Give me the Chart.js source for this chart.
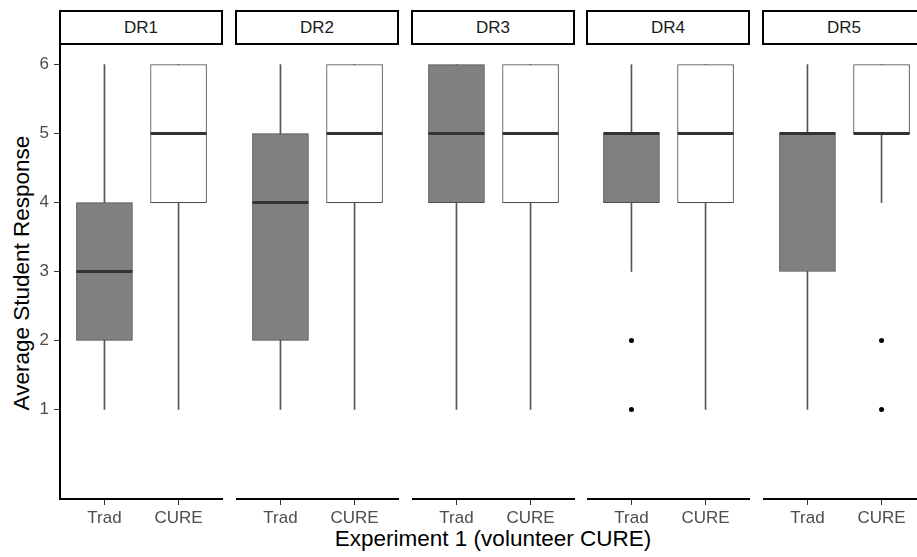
<!DOCTYPE html>
<html>
<head>
<meta charset="utf-8">
<script src="https://cdn.jsdelivr.net/npm/chart.js@4/dist/chart.umd.min.js"></script>
<style>
  body { margin: 0; background: #fff; }
  #wrap { position: relative; width: 917px; height: 557px; overflow: hidden; font-family: "Liberation Sans", Arial, sans-serif; }
  .strip { position: absolute; top: 10px; height: 35px; width: 164px; box-sizing: border-box; border: 2px solid #000; background: #fff;
           font-size: 17px; color: #1a1a1a; text-align: center; line-height: 31px; }
  canvas { position: absolute; top: 44px; }
  #xtitle { position: absolute; left: 0; width: 986px; top: 526px; text-align: center; font-size: 22.5px; color: #000; }
  #ytitle { position: absolute; left: 22px; top: 273px; transform: translate(-50%, -50%) rotate(-90deg); white-space: nowrap; font-size: 22.5px; color: #000; }
</style>
</head>
<body>
<div id="wrap">
  <div id="ytitle">Average Student Response</div>
  <div id="xtitle">Experiment 1 (volunteer CURE)</div>
</div>
<script>
// facets and groups
var panels = ['DR1', 'DR2', 'DR3', 'DR4', 'DR5'];
var groups = ['Trad', 'CURE'];
var yTicks = [1, 2, 3, 4, 5, 6];

// box plot stats per panel: [Trad, CURE]
var lowWhisker  = [[1, 1], [1, 1], [1, 1], [3, 1], [1, 4]];
var q1          = [[2, 4], [2, 4], [4, 4], [4, 4], [3, 5]];
var medians     = [[3, 5], [4, 5], [5, 5], [5, 5], [5, 5]];
var q3          = [[4, 6], [5, 6], [6, 6], [5, 6], [5, 6]];
var highWhisker = [[6, 6], [6, 6], [6, 6], [6, 6], [6, 6]];
var outliers    = [[[], []], [[], []], [[], []], [[1, 2], []], [[], [1, 2]]];

Chart.defaults.font.family = '"Liberation Sans", Arial, sans-serif';
Chart.defaults.animation = false;

var wrap = document.getElementById('wrap');
var panelW = 163, plotH = 455, xAxisH = 36, yAxisW = 60;

panels.forEach(function (name, p) {
    var left = Math.round(yAxisW + p * 175.75);

    var strip = document.createElement('div');
    strip.className = 'strip';
    strip.style.left = (left - 1) + 'px';
    strip.textContent = name;
    wrap.appendChild(strip);

    var canvas = document.createElement('canvas');
    var first = p === 0;
    canvas.width = first ? panelW + yAxisW : panelW;
    canvas.height = plotH + xAxisH;
    canvas.style.left = (first ? 0 : left) + 'px';
    wrap.appendChild(canvas);

    var outPts = [];
    outliers[p].forEach(function (vals, g) {
        vals.forEach(function (v) { outPts.push({ x: g + 1, y: v }); });
    });

    new Chart(canvas, {
        type: 'bar',
        data: {
            datasets: [{
                // whiskers
                data: groups.map(function (g, i) { return { x: i + 1, y: [lowWhisker[p][i], highWhisker[p][i]] }; }),
                backgroundColor: '#555555',
                borderWidth: 0,
                barThickness: 1,
                grouped: false,
                order: 4
            }, {
                // boxes
                data: groups.map(function (g, i) { return { x: i + 1, y: [q1[p][i], q3[p][i]] }; }),
                backgroundColor: ['#808080', '#ffffff'],
                borderColor: '#4d4d4d',
                borderWidth: 1,
                borderSkipped: false,
                barThickness: 56,
                grouped: false,
                order: 3
            }, {
                type: 'line',
                data: groups.map(function (g, i) { return { x: i + 1, y: medians[p][i] }; }),
                showLine: false,
                pointStyle: 'line',
                pointRadius: 28,
                pointBorderWidth: 3,
                pointBorderColor: '#333333',
                order: 2
            }, {
                type: 'line',
                data: outPts,
                showLine: false,
                pointRadius: 2.5,
                pointBackgroundColor: '#000',
                pointBorderWidth: 0,
                order: 1
            }]
        },
        options: {
            responsive: false,
            layout: { padding: 0, autoPadding: false },
            plugins: { legend: { display: false }, tooltip: { enabled: false } },
            scales: {
                x: {
                    type: 'linear',
                    min: 0.4,
                    max: 2.6,
                    offset: false,
                    afterBuildTicks: function (scale) {
                        scale.ticks = groups.map(function (g, i) { return { value: i + 1 }; });
                    },
                    afterFit: function (scale) {
                        scale.height = xAxisH;
                        scale.paddingLeft = 0;
                        scale.paddingRight = 0;
                    },
                    ticks: {
                        autoSkip: false,
                        maxRotation: 0,
                        padding: 3,
                        color: '#4d4d4d',
                        font: { size: 17 },
                        callback: function (v) { return groups[v - 1]; }
                    },
                    grid: { display: true, drawOnChartArea: false, drawTicks: true, tickLength: 6, color: '#333333', lineWidth: 1, offset: false },
                    border: { display: true, color: '#000', width: 2 }
                },
                y: {
                    display: first,
                    min: -0.3,
                    max: 6.3,
                    afterBuildTicks: function (scale) {
                        scale.ticks = yTicks.map(function (v) { return { value: v }; });
                    },
                    afterFit: function (scale) {
                        scale.width = first ? yAxisW : 0;
                        scale.paddingTop = 0;
                        scale.paddingBottom = 0;
                    },
                    ticks: { padding: 5, color: '#4d4d4d', font: { size: 17 } },
                    grid: { display: true, drawOnChartArea: false, drawTicks: true, tickLength: 6, color: '#333333', lineWidth: 1 },
                    border: { display: true, color: '#000', width: 2 }
                }
            }
        }
    });
});
</script>
</body>
</html>
